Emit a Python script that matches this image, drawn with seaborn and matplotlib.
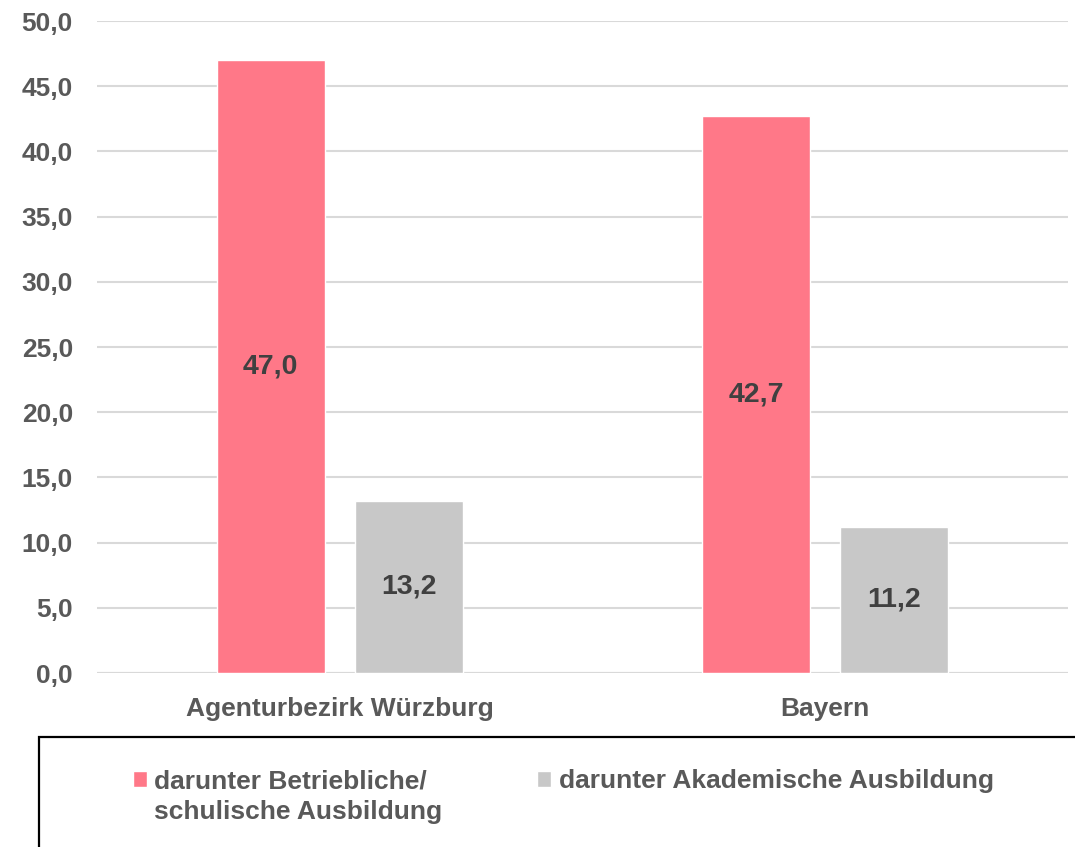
import pandas as pd
import matplotlib.pyplot as plt
import matplotlib.patches as mpatches
import seaborn as sns

sns.set_style("white")
plt.rcParams['font.family'] = ['Liberation Sans', 'DejaVu Sans']

regions = ['Agenturbezirk Würzburg', 'Bayern']
series = ['darunter Betriebliche/', 'darunter Akademische Ausbildung']
series_line2 = 'schulische Ausbildung'
betrieblich = [47.0, 42.7]
akademisch = [13.2, 11.2]
y_ticks = [0, 5, 10, 15, 20, 25, 30, 35, 40, 45, 50]

df = pd.DataFrame({
    'Region': regions * 2,
    'Serie': [series[0]] * 2 + [series[1]] * 2,
    'Wert': betrieblich + akademisch,
})

W, H = 1075, 847
fig = plt.figure(figsize=(W / 100, H / 100), dpi=100)
ax = fig.add_axes([0.0902, 0.2054, 0.9033, 0.7698])

sns.barplot(data=df, x='Region', y='Wert', hue='Serie', ax=ax,
            palette=['#FF7888', '#C8C8C8'], width=0.568, gap=0.218,
            saturation=1, errorbar=None, zorder=3)

for cont in ax.containers:
    labels = [f"{v:.1f}".replace('.', ',') for v in cont.datavalues]
    ax.bar_label(cont, labels=labels, label_type='center', fontsize=20.5,
                 fontweight='bold', color='#404040')

ax.set_xlim(-0.5, 1.5)
ax.set_ylim(0, 50)
ax.set_yticks(y_ticks)
ax.set_yticklabels([f"{t:.1f}".replace('.', ',') for t in y_ticks])
ax.yaxis.grid(True, color='#D9D9D9', linewidth=1.5, zorder=0)
ax.set_axisbelow(True)
for s in ax.spines.values():
    s.set_visible(False)
ax.tick_params(axis='y', length=0, pad=17.3, labelsize=19, labelcolor='#595959')
ax.tick_params(axis='x', length=0, pad=17, labelsize=19, labelcolor='#595959')
for lbl in ax.get_xticklabels() + ax.get_yticklabels():
    lbl.set_fontweight('bold')
ax.set_xlabel('')
ax.set_ylabel('')
ax.axhline(0, color='#D9D9D9', linewidth=1.5, zorder=1)

# Legend unten, Rahmen läuft rechts/unten aus dem Bild
handles, labels = ax.get_legend_handles_labels()
ax.get_legend().remove()
leg = fig.legend(handles, labels, ncol=2, frameon=False, loc='upper left',
                 bbox_to_anchor=(0.1014, 0.120), handlelength=0.53,
                 handleheight=0.53, handletextpad=0.27, columnspacing=4.2,
                 prop={'weight': 'bold', 'size': 19}, labelcolor='#595959')

fig.canvas.draw()
bb = leg.get_texts()[0].get_window_extent()
fig.text(bb.x0 / W, (bb.y0 - 31) / H, series_line2, fontsize=19,
         fontweight='bold', color='#595959', ha='left', va='bottom')

fig.patches.append(mpatches.Rectangle((0.0363, -0.05), 1.1, 0.1799,
                                      transform=fig.transFigure, fill=False,
                                      edgecolor='black', linewidth=1.6))

fig.savefig('out.png', dpi=100)
